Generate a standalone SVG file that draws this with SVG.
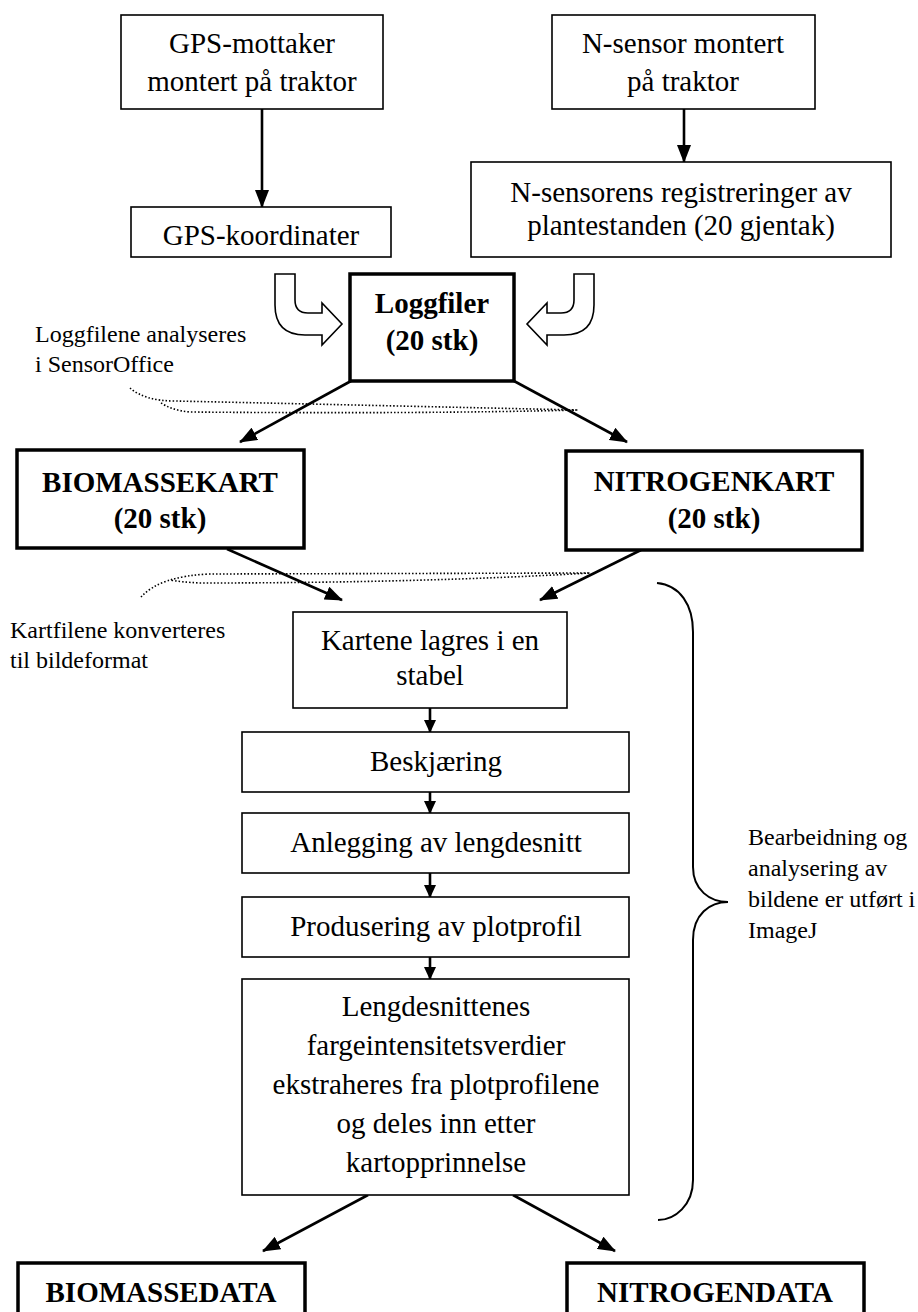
<svg xmlns="http://www.w3.org/2000/svg" width="918" height="1312" viewBox="0 0 918 1312">
<style>
.box{fill:#fff;stroke:#000;stroke-width:1.6}
.tbox{fill:#fff;stroke:#000;stroke-width:3.5}
.t{font-family:"Liberation Serif","Times New Roman",serif;font-size:29px;fill:#000;text-anchor:middle}
.b{font-weight:bold}
.ann{font-family:"Liberation Serif","Times New Roman",serif;font-size:24px;fill:#000}
.con{stroke:#000;stroke-width:2.6;fill:none}
.dot{stroke:#000;stroke-width:1.6;fill:none;stroke-dasharray:1.5 2}
.ua{fill:#fff;stroke:#000;stroke-width:1.6;stroke-linejoin:miter}
</style>
<defs>
<marker id="ah" markerUnits="userSpaceOnUse" markerWidth="18" markerHeight="14" refX="17" refY="7" orient="auto">
<path d="M0,0 L18,7 L0,14 z" fill="#000"/>
</marker>
<marker id="ahs" markerUnits="userSpaceOnUse" markerWidth="13" markerHeight="12" refX="12" refY="6" orient="auto">
<path d="M0,0 L13,6 L0,12 z" fill="#000"/>
</marker>
</defs>
<rect width="918" height="1312" fill="#fff"/>

<g id="connectors">
<line class="con" x1="262" y1="109" x2="262" y2="207" marker-end="url(#ah)"/>
<line class="con" x1="684" y1="109" x2="684" y2="162" marker-end="url(#ah)"/>
<line class="con" x1="351" y1="381" x2="240" y2="442" marker-end="url(#ah)"/>
<line class="con" x1="514" y1="381" x2="627" y2="442" marker-end="url(#ah)"/>
<line class="con" x1="227" y1="549" x2="342" y2="600" marker-end="url(#ah)"/>
<line class="con" x1="641" y1="550" x2="540" y2="600" marker-end="url(#ah)"/>
<line class="con" x1="430" y1="708" x2="430" y2="732" marker-end="url(#ahs)"/>
<line class="con" x1="430" y1="792" x2="430" y2="813" marker-end="url(#ahs)"/>
<line class="con" x1="430" y1="873" x2="430" y2="897" marker-end="url(#ahs)"/>
<line class="con" x1="430" y1="957" x2="430" y2="979" marker-end="url(#ahs)"/>
<line class="con" x1="368" y1="1195" x2="263" y2="1251" marker-end="url(#ah)"/>
<line class="con" x1="513" y1="1195" x2="615" y2="1251" marker-end="url(#ah)"/>
<path class="ua" d="M275,274 L295,274 L295,300 Q295,313 308,313 L322,313 L322,303 L342,324 L322,345 L322,335 L305,335 Q275,335 275,305 Z"/>
<path class="ua" d="M594,274 L574,274 L574,300 Q574,313 561,313 L547,313 L547,303 L527,324 L547,345 L547,335 L564,335 Q594,335 594,305 Z"/>
</g>

<g id="annotations">
<path class="dot" d="M130,388 Q145,401 175,401 L578,410 Q420,414 190,412 Q170,410 160,402"/>
<path class="dot" d="M141,597 Q160,576 210,574 L590,573 Q420,583 200,583 Q180,582 170,580"/>
<path class="con" style="stroke-width:2" d="M657,583 C680,585 693,605 693,632 L693,867 C693,890 710,902 728,902 C710,902 693,914 693,940 L693,1180 C693,1205 675,1220 658,1220"/>
<text class="ann" x="35" y="342">Loggfilene analyseres</text>
<text class="ann" x="35" y="372">i SensorOffice</text>
<text class="ann" x="10" y="638">Kartfilene konverteres</text>
<text class="ann" x="10" y="668">til bildeformat</text>
<text class="ann" x="748" y="845">Bearbeidning og</text>
<text class="ann" x="748" y="876">analysering av</text>
<text class="ann" x="748" y="907">bildene er utført i</text>
<text class="ann" x="748" y="938">ImageJ</text>
</g>

<g id="gps-mottaker"><rect class="box" x="121" y="15" width="262" height="94"/>
<text class="t" x="252" y="53">GPS-mottaker</text><text class="t" x="252" y="91">montert på traktor</text></g>
<g id="n-sensor"><rect class="box" x="552" y="15" width="263" height="94"/>
<text class="t" x="683" y="53">N-sensor montert</text><text class="t" x="683" y="91">på traktor</text></g>
<g id="gps-koordinater"><rect class="box" x="131" y="207" width="260" height="50"/>
<text class="t" x="261" y="245">GPS-koordinater</text></g>
<g id="n-sensorens"><rect class="box" x="471" y="162" width="420" height="95"/>
<text class="t" x="681" y="202">N-sensorens registreringer av</text><text class="t" x="681" y="235">plantestanden (20 gjentak)</text></g>
<g id="loggfiler"><rect class="tbox" x="350" y="274" width="164" height="107"/>
<text class="t b" x="432" y="313">Loggfiler</text><text class="t b" x="432" y="350">(20 stk)</text></g>
<g id="biomassekart"><rect class="tbox" x="17" y="450" width="287" height="98"/>
<text class="t b" x="160" y="492">BIOMASSEKART</text><text class="t b" x="160" y="528">(20 stk)</text></g>
<g id="nitrogenkart"><rect class="tbox" x="566" y="451" width="296" height="99"/>
<text class="t b" x="714" y="491">NITROGENKART</text><text class="t b" x="714" y="528">(20 stk)</text></g>
<g id="kartene"><rect class="box" x="293" y="612" width="274" height="96"/>
<text class="t" x="430" y="650">Kartene lagres i en</text><text class="t" x="430" y="685">stabel</text></g>
<g id="beskjaering"><rect class="box" x="242" y="732" width="387" height="60"/>
<text class="t" x="436" y="771">Beskjæring</text></g>
<g id="anlegging"><rect class="box" x="242" y="813" width="387" height="60"/>
<text class="t" x="436" y="852">Anlegging av lengdesnitt</text></g>
<g id="produsering"><rect class="box" x="242" y="897" width="387" height="60"/>
<text class="t" x="436" y="936">Produsering av plotprofil</text></g>
<g id="lengdesnittenes"><rect class="box" x="242" y="979" width="387" height="216"/>
<text class="t" x="436" y="1016">Lengdesnittenes</text>
<text class="t" x="436" y="1055">fargeintensitetsverdier</text>
<text class="t" x="436" y="1094">ekstraheres fra plotprofilene</text>
<text class="t" x="436" y="1133">og deles inn etter</text>
<text class="t" x="436" y="1172">kartopprinnelse</text></g>
<g id="biomassedata"><rect class="tbox" x="18" y="1263" width="287" height="90"/>
<text class="t b" x="161" y="1302">BIOMASSEDATA</text></g>
<g id="nitrogendata"><rect class="tbox" x="567" y="1263" width="297" height="90"/>
<text class="t b" x="715" y="1302">NITROGENDATA</text></g>
</svg>
